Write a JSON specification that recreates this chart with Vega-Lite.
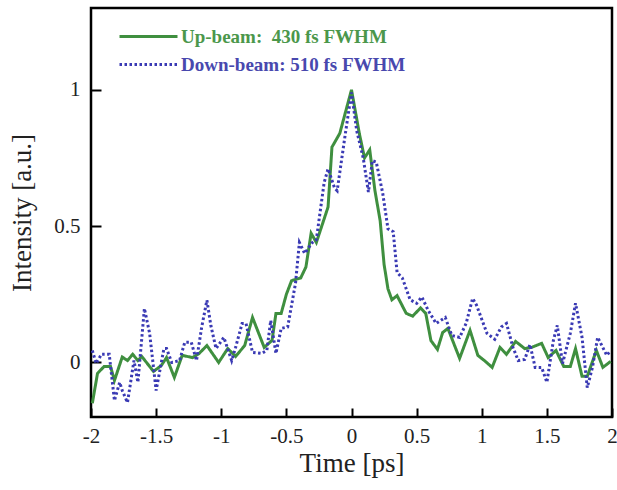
{
  "$schema": "https://vega.github.io/schema/vega-lite/v6.json",
  "width": 521,
  "height": 409,
  "autosize": "none",
  "padding": {"left": 91, "top": 8, "right": 5, "bottom": 73},
  "config": {
    "view": {"stroke": "#000", "strokeWidth": 2.5},
    "font": "Liberation Serif",
    "axis": {"labelFont": "Liberation Serif", "titleFont": "Liberation Serif", "labelFontSize": 21, "titleFontSize": 27}
  },
  "data": {"values": [
    {"t": -1.99, "I": -0.15, "beam": "Up"}, {"t": -1.95, "I": -0.04, "beam": "Up"}, {"t": -1.9, "I": -0.015, "beam": "Up"}, {"t": -1.85, "I": -0.015, "beam": "Up"}, {"t": -1.82, "I": -0.066, "beam": "Up"}, {"t": -1.76, "I": 0.02, "beam": "Up"}, {"t": -1.72, "I": 0.007, "beam": "Up"}, {"t": -1.68, "I": 0.03, "beam": "Up"}, {"t": -1.64, "I": 0.007, "beam": "Up"}, {"t": -1.61, "I": 0.022, "beam": "Up"}, {"t": -1.52, "I": -0.033, "beam": "Up"}, {"t": -1.46, "I": -0.011, "beam": "Up"}, {"t": -1.42, "I": 0.018, "beam": "Up"}, {"t": -1.36, "I": -0.055, "beam": "Up"}, {"t": -1.3, "I": 0.026, "beam": "Up"}, {"t": -1.22, "I": 0.018, "beam": "Up"}, {"t": -1.17, "I": 0.033, "beam": "Up"}, {"t": -1.11, "I": 0.062, "beam": "Up"}, {"t": -1.02, "I": 0.0, "beam": "Up"}, {"t": -0.95, "I": 0.051, "beam": "Up"}, {"t": -0.89, "I": 0.022, "beam": "Up"}, {"t": -0.82, "I": 0.062, "beam": "Up"}, {"t": -0.76, "I": 0.165, "beam": "Up"}, {"t": -0.67, "I": 0.055, "beam": "Up"}, {"t": -0.61, "I": 0.081, "beam": "Up"}, {"t": -0.58, "I": 0.18, "beam": "Up"}, {"t": -0.54, "I": 0.18, "beam": "Up"}, {"t": -0.5, "I": 0.25, "beam": "Up"}, {"t": -0.46, "I": 0.3, "beam": "Up"}, {"t": -0.39, "I": 0.31, "beam": "Up"}, {"t": -0.35, "I": 0.35, "beam": "Up"}, {"t": -0.31, "I": 0.474, "beam": "Up"}, {"t": -0.27, "I": 0.44, "beam": "Up"}, {"t": -0.18, "I": 0.57, "beam": "Up"}, {"t": -0.15, "I": 0.79, "beam": "Up"}, {"t": -0.09, "I": 0.84, "beam": "Up"}, {"t": 0.0, "I": 1.0, "beam": "Up"}, {"t": 0.06, "I": 0.84, "beam": "Up"}, {"t": 0.1, "I": 0.75, "beam": "Up"}, {"t": 0.14, "I": 0.78, "beam": "Up"}, {"t": 0.18, "I": 0.63, "beam": "Up"}, {"t": 0.22, "I": 0.52, "beam": "Up"}, {"t": 0.25, "I": 0.36, "beam": "Up"}, {"t": 0.28, "I": 0.27, "beam": "Up"}, {"t": 0.31, "I": 0.23, "beam": "Up"}, {"t": 0.35, "I": 0.245, "beam": "Up"}, {"t": 0.42, "I": 0.18, "beam": "Up"}, {"t": 0.47, "I": 0.17, "beam": "Up"}, {"t": 0.53, "I": 0.2, "beam": "Up"}, {"t": 0.57, "I": 0.18, "beam": "Up"}, {"t": 0.61, "I": 0.08, "beam": "Up"}, {"t": 0.66, "I": 0.048, "beam": "Up"}, {"t": 0.7, "I": 0.11, "beam": "Up"}, {"t": 0.74, "I": 0.125, "beam": "Up"}, {"t": 0.83, "I": 0.015, "beam": "Up"}, {"t": 0.91, "I": 0.118, "beam": "Up"}, {"t": 0.97, "I": 0.026, "beam": "Up"}, {"t": 1.02, "I": 0.007, "beam": "Up"}, {"t": 1.08, "I": -0.018, "beam": "Up"}, {"t": 1.14, "I": 0.055, "beam": "Up"}, {"t": 1.19, "I": 0.03, "beam": "Up"}, {"t": 1.26, "I": 0.077, "beam": "Up"}, {"t": 1.33, "I": 0.051, "beam": "Up"}, {"t": 1.38, "I": 0.055, "beam": "Up"}, {"t": 1.46, "I": 0.07, "beam": "Up"}, {"t": 1.51, "I": 0.018, "beam": "Up"}, {"t": 1.57, "I": 0.044, "beam": "Up"}, {"t": 1.63, "I": -0.015, "beam": "Up"}, {"t": 1.68, "I": -0.015, "beam": "Up"}, {"t": 1.72, "I": 0.051, "beam": "Up"}, {"t": 1.77, "I": -0.051, "beam": "Up"}, {"t": 1.81, "I": -0.051, "beam": "Up"}, {"t": 1.88, "I": 0.044, "beam": "Up"}, {"t": 1.93, "I": -0.018, "beam": "Up"}, {"t": 1.99, "I": 0.004, "beam": "Up"},
    {"t": -1.99, "I": 0.044, "beam": "Down"}, {"t": -1.96, "I": -0.004, "beam": "Down"}, {"t": -1.92, "I": 0.03, "beam": "Down"}, {"t": -1.86, "I": 0.03, "beam": "Down"}, {"t": -1.82, "I": -0.14, "beam": "Down"}, {"t": -1.78, "I": -0.073, "beam": "Down"}, {"t": -1.76, "I": -0.103, "beam": "Down"}, {"t": -1.72, "I": -0.147, "beam": "Down"}, {"t": -1.67, "I": 0.007, "beam": "Down"}, {"t": -1.64, "I": -0.073, "beam": "Down"}, {"t": -1.59, "I": 0.198, "beam": "Down"}, {"t": -1.55, "I": 0.107, "beam": "Down"}, {"t": -1.5, "I": -0.103, "beam": "Down"}, {"t": -1.44, "I": 0.051, "beam": "Down"}, {"t": -1.42, "I": 0.051, "beam": "Down"}, {"t": -1.38, "I": 0.0, "beam": "Down"}, {"t": -1.32, "I": 0.007, "beam": "Down"}, {"t": -1.28, "I": 0.074, "beam": "Down"}, {"t": -1.23, "I": 0.074, "beam": "Down"}, {"t": -1.19, "I": 0.007, "beam": "Down"}, {"t": -1.15, "I": 0.13, "beam": "Down"}, {"t": -1.11, "I": 0.228, "beam": "Down"}, {"t": -1.08, "I": 0.136, "beam": "Down"}, {"t": -1.04, "I": 0.051, "beam": "Down"}, {"t": -0.98, "I": 0.092, "beam": "Down"}, {"t": -0.92, "I": 0.007, "beam": "Down"}, {"t": -0.89, "I": 0.055, "beam": "Down"}, {"t": -0.84, "I": 0.143, "beam": "Down"}, {"t": -0.81, "I": 0.143, "beam": "Down"}, {"t": -0.76, "I": 0.037, "beam": "Down"}, {"t": -0.69, "I": 0.033, "beam": "Down"}, {"t": -0.65, "I": 0.044, "beam": "Down"}, {"t": -0.62, "I": 0.154, "beam": "Down"}, {"t": -0.58, "I": 0.033, "beam": "Down"}, {"t": -0.54, "I": 0.125, "beam": "Down"}, {"t": -0.49, "I": 0.13, "beam": "Down"}, {"t": -0.43, "I": 0.29, "beam": "Down"}, {"t": -0.4, "I": 0.44, "beam": "Down"}, {"t": -0.36, "I": 0.4, "beam": "Down"}, {"t": -0.3, "I": 0.44, "beam": "Down"}, {"t": -0.27, "I": 0.45, "beam": "Down"}, {"t": -0.21, "I": 0.66, "beam": "Down"}, {"t": -0.18, "I": 0.71, "beam": "Down"}, {"t": -0.13, "I": 0.64, "beam": "Down"}, {"t": -0.11, "I": 0.63, "beam": "Down"}, {"t": -0.05, "I": 0.83, "beam": "Down"}, {"t": 0.0, "I": 0.99, "beam": "Down"}, {"t": 0.04, "I": 0.85, "beam": "Down"}, {"t": 0.09, "I": 0.75, "beam": "Down"}, {"t": 0.13, "I": 0.625, "beam": "Down"}, {"t": 0.16, "I": 0.74, "beam": "Down"}, {"t": 0.19, "I": 0.735, "beam": "Down"}, {"t": 0.24, "I": 0.62, "beam": "Down"}, {"t": 0.28, "I": 0.49, "beam": "Down"}, {"t": 0.32, "I": 0.48, "beam": "Down"}, {"t": 0.35, "I": 0.33, "beam": "Down"}, {"t": 0.39, "I": 0.31, "beam": "Down"}, {"t": 0.45, "I": 0.23, "beam": "Down"}, {"t": 0.5, "I": 0.217, "beam": "Down"}, {"t": 0.54, "I": 0.24, "beam": "Down"}, {"t": 0.59, "I": 0.19, "beam": "Down"}, {"t": 0.65, "I": 0.143, "beam": "Down"}, {"t": 0.72, "I": 0.165, "beam": "Down"}, {"t": 0.77, "I": 0.099, "beam": "Down"}, {"t": 0.83, "I": 0.092, "beam": "Down"}, {"t": 0.88, "I": 0.143, "beam": "Down"}, {"t": 0.93, "I": 0.235, "beam": "Down"}, {"t": 0.96, "I": 0.21, "beam": "Down"}, {"t": 1.04, "I": 0.107, "beam": "Down"}, {"t": 1.1, "I": 0.085, "beam": "Down"}, {"t": 1.15, "I": 0.13, "beam": "Down"}, {"t": 1.19, "I": 0.143, "beam": "Down"}, {"t": 1.24, "I": 0.055, "beam": "Down"}, {"t": 1.28, "I": 0.007, "beam": "Down"}, {"t": 1.33, "I": 0.011, "beam": "Down"}, {"t": 1.37, "I": 0.066, "beam": "Down"}, {"t": 1.41, "I": -0.018, "beam": "Down"}, {"t": 1.46, "I": -0.018, "beam": "Down"}, {"t": 1.5, "I": -0.073, "beam": "Down"}, {"t": 1.55, "I": 0.081, "beam": "Down"}, {"t": 1.58, "I": 0.136, "beam": "Down"}, {"t": 1.62, "I": -0.004, "beam": "Down"}, {"t": 1.68, "I": 0.107, "beam": "Down"}, {"t": 1.72, "I": 0.217, "beam": "Down"}, {"t": 1.77, "I": 0.092, "beam": "Down"}, {"t": 1.81, "I": -0.092, "beam": "Down"}, {"t": 1.85, "I": -0.018, "beam": "Down"}, {"t": 1.89, "I": 0.092, "beam": "Down"}, {"t": 1.96, "I": 0.026, "beam": "Down"}, {"t": 1.99, "I": 0.044, "beam": "Down"}
  ]},
  "mark": {"type": "line", "strokeWidth": 3},
  "encoding": {
    "x": {"field": "t", "type": "quantitative", "scale": {"domain": [-2, 2], "nice": false, "zero": false},
      "axis": {"values": [-2, -1.5, -1, -0.5, 0, 0.5, 1, 1.5, 2], "grid": false, "domain": false, "tickSize": -9, "tickColor": "#000", "tickWidth": 2, "labelPadding": 17.5, "labelColor": "#222", "labelExpr": "'' + datum.value", "labelFlush": false, "title": "Time [ps]", "titleColor": "#222", "titleFontWeight": "normal", "titlePadding": 4}},
    "y": {"field": "I", "type": "quantitative", "scale": {"domain": [-0.2, 1.3], "nice": false, "zero": false},
      "axis": {"values": [0, 0.5, 1], "grid": false, "domain": false, "tickSize": -10, "tickColor": "#000", "tickWidth": 2, "labelPadding": 21, "labelColor": "#222", "labelExpr": "'' + datum.value", "title": "Intensity [a.u.]", "titleColor": "#222", "titleFontWeight": "normal", "titlePadding": 17}},
    "color": {"field": "beam", "type": "nominal", "scale": {"domain": ["Up", "Down"], "range": ["#3f8f3f", "#3a3ab4"]},
      "legend": {"title": null, "orient": "none", "legendX": 46, "legendY": 17, "symbolType": "M-2.9,0H2.9", "symbolSize": 400, "symbolStrokeWidth": 3, "labelFont": "Liberation Serif", "labelFontSize": 19, "labelFontWeight": "bold", "rowPadding": 6, "padding": 0, "labelOffset": 21, "labelLimit": 400,
        "labelExpr": "datum.label === 'Up' ? 'Up-beam:\u00a0 430 fs FWHM' : 'Down-beam: 510 fs FWHM'",
        "encode": {"labels": {"update": {"fill": {"signal": "datum.value === 'Up' ? '#4b974b' : '#4848ae'"}}}}}},
    "strokeDash": {"field": "beam", "type": "nominal", "scale": {"domain": ["Up", "Down"], "range": [[1, 0], [2.5, 2.5]]},
      "legend": {"title": null, "orient": "none", "legendX": 46, "legendY": 17, "symbolType": "M-2.9,0H2.9", "symbolSize": 400, "symbolStrokeWidth": 3, "labelFont": "Liberation Serif", "labelFontSize": 19, "labelFontWeight": "bold", "rowPadding": 6, "padding": 0, "labelOffset": 21, "labelLimit": 400,
        "labelExpr": "datum.label === 'Up' ? 'Up-beam:\u00a0 430 fs FWHM' : 'Down-beam: 510 fs FWHM'",
        "encode": {"labels": {"update": {"fill": {"signal": "datum.value === 'Up' ? '#4b974b' : '#4848ae'"}}}}}}
  }
}
